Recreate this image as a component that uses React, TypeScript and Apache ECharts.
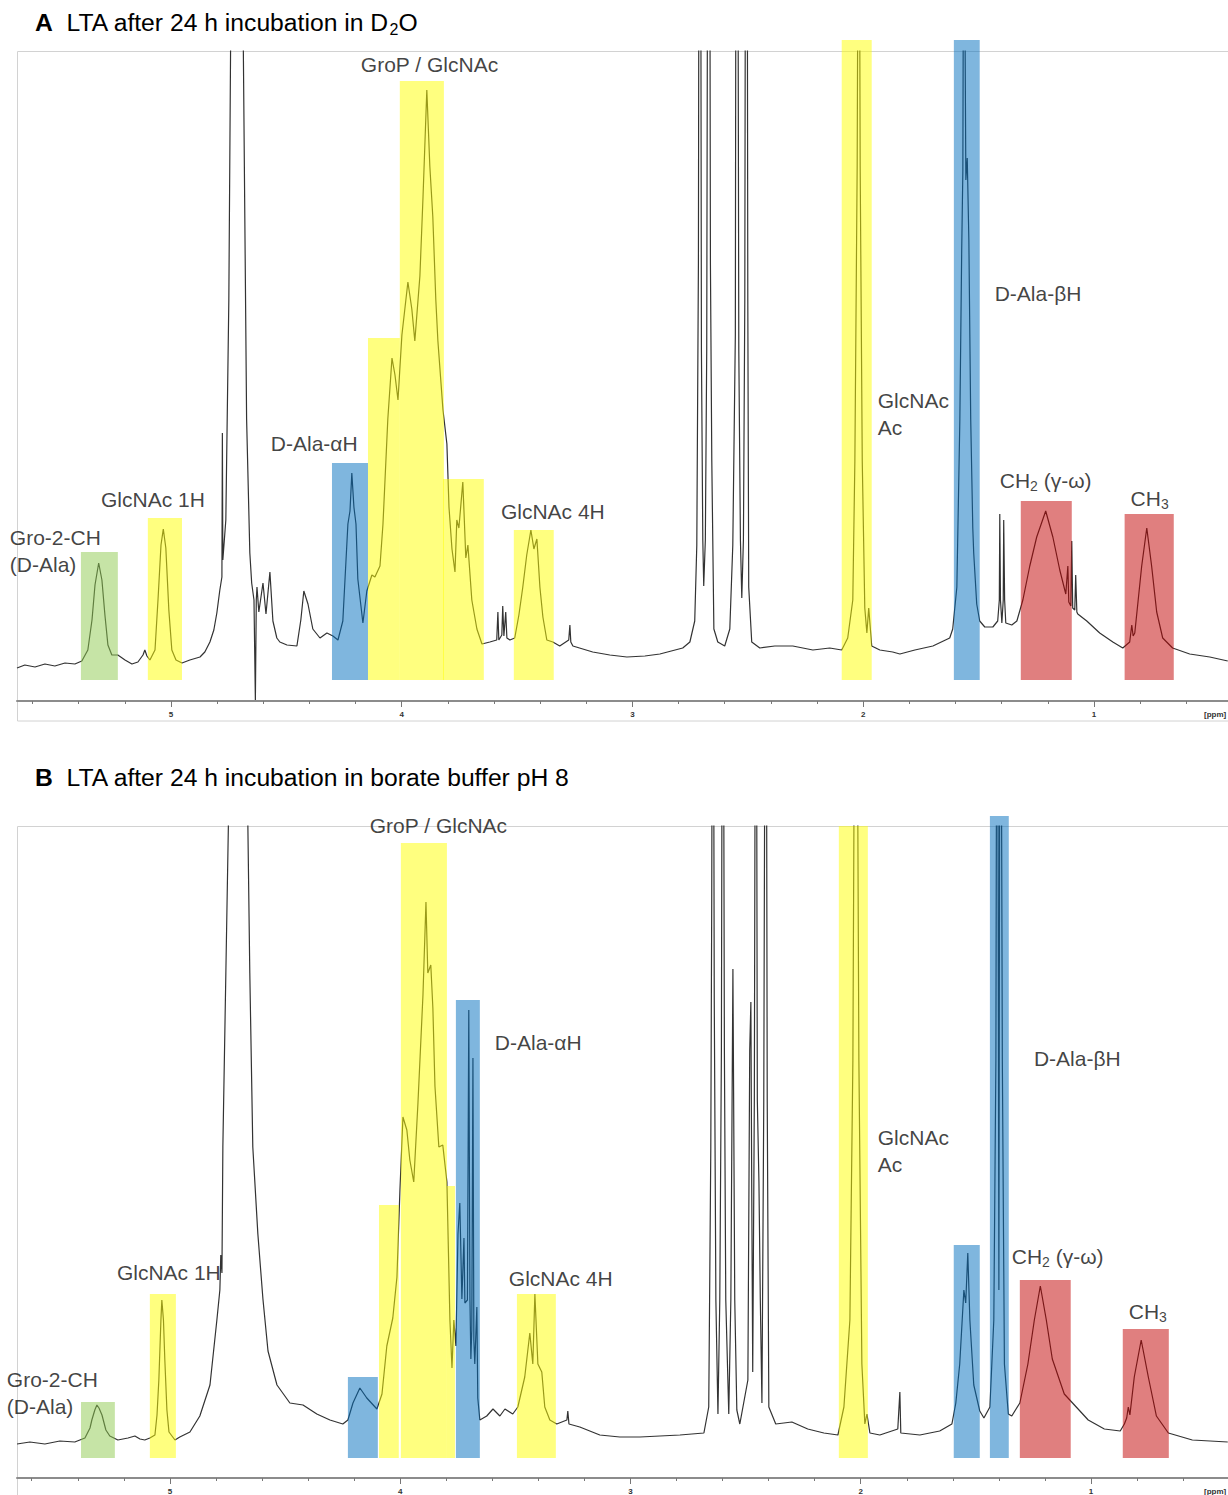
import React, { useEffect, useRef } from "react";
import * as echarts from "echarts";

// ---------- DATA (ppm, relative intensity) ----------
const titleA = "LTA after 24 h incubation in D₂O";
const titleB = "LTA after 24 h incubation in borate buffer pH 8";

const majorTicks = [1, 2, 3, 4, 5];
const minorTicks = [
  0.6, 0.8, 1.0, 1.2, 1.4, 1.6, 1.8, 2.0, 2.2, 2.4, 2.6, 2.8, 3.0, 3.2, 3.4,
  3.6, 3.8, 4.0, 4.2, 4.4, 4.6, 4.8, 5.0, 5.2, 5.4, 5.6,
];

const spectrumA: [number, number][] = [
  [5.667,33],[5.633,36],[5.589,34],[5.546,37],[5.503,35],[5.459,38],[5.416,37],[5.386,40],[5.360,51],[5.342,81],
  [5.329,116],[5.313,138],[5.299,121],[5.286,86],[5.273,56],[5.256,46],[5.230,46],[5.199,41],[5.169,37],[5.143,39],
  [5.121,46],[5.113,51],[5.104,45],[5.091,41],[5.069,51],[5.056,101],[5.043,156],[5.033,172],[5.022,153],[5.009,91],
  [4.996,51],[4.978,41],[4.952,38],[4.918,41],[4.874,44],[4.853,49],[4.831,59],[4.814,71],[4.801,88],[4.788,111],
  [4.779,124],[4.777,268],[4.775,141],[4.762,181],[4.749,401],[4.740,700],[4.714,1500],[4.688,700],[4.672,282],[4.658,148],
  [4.650,118],[4.640,101],[4.634,1],[4.630,101],[4.627,114],[4.619,89],[4.601,118],[4.588,87],[4.571,129],[4.558,80],
  [4.541,63],[4.528,59],[4.497,56],[4.454,55],[4.437,81],[4.424,110],[4.406,97],[4.385,72],[4.354,63],[4.324,68],
  [4.298,65],[4.276,61],[4.255,80],[4.233,177],[4.224,190],[4.216,228],[4.207,194],[4.198,177],[4.190,122],[4.168,78],
  [4.151,110],[4.129,126],[4.116,124],[4.094,135],[4.081,177],[4.060,282],[4.042,343],[4.029,326],[4.016,301],[3.999,366],
  [3.973,419],[3.956,392],[3.943,360],[3.921,425],[3.908,501],[3.891,611],[3.878,535],[3.865,484],[3.852,401],[3.843,360],
  [3.821,291],[3.804,257],[3.795,194],[3.782,152],[3.769,129],[3.761,181],[3.752,173],[3.735,219],[3.722,143],[3.713,156],
  [3.696,101],[3.674,72],[3.652,57],[3.618,59],[3.588,61],[3.583,89],[3.579,61],[3.566,66],[3.562,95],[3.557,65],
  [3.549,89],[3.544,63],[3.531,61],[3.510,63],[3.492,86],[3.475,114],[3.458,146],[3.440,171],[3.427,152],[3.414,162],
  [3.401,114],[3.388,84],[3.371,61],[3.345,59],[3.315,55],[3.276,61],[3.271,76],[3.267,59],[3.258,55],[3.172,49],
  [3.098,46],[3.024,44],[2.946,45],[2.881,47],[2.782,53],[2.751,59],[2.730,80],[2.721,156],[2.714,438],[2.708,1400],
  [2.701,351],[2.695,161],[2.691,115],[2.684,161],[2.678,351],[2.669,1400],[2.662,438],[2.656,240],[2.647,72],[2.630,59],
  [2.600,55],[2.578,72],[2.565,156],[2.554,366],[2.548,1400],[2.539,351],[2.532,161],[2.526,103],[2.519,161],[2.513,401],
  [2.506,1400],[2.500,401],[2.496,114],[2.483,59],[2.448,53],[2.383,55],[2.305,55],[2.218,51],[2.145,53],[2.093,51],
  [2.067,63],[2.045,101],[2.036,240],[2.026,535],[2.019,1000],[2.013,535],[2.004,240],[1.993,93],[1.984,68],[1.976,93],
  [1.963,55],[1.928,51],[1.872,49],[1.841,47],[1.776,51],[1.698,55],[1.625,63],[1.612,72],[1.594,114],[1.581,282],
  [1.573,451],[1.568,531],[1.564,900],[1.555,521],[1.549,543],[1.542,461],[1.534,282],[1.525,173],[1.521,148],[1.508,97],
  [1.495,80],[1.473,74],[1.438,74],[1.417,80],[1.410,101],[1.408,187],[1.405,101],[1.399,78],[1.393,101],[1.391,181],
  [1.387,101],[1.382,78],[1.356,76],[1.334,80],[1.308,101],[1.278,135],[1.248,164],[1.209,190],[1.178,164],[1.148,131],
  [1.122,107],[1.113,135],[1.109,99],[1.100,95],[1.096,160],[1.092,93],[1.083,91],[1.079,126],[1.074,89],[1.070,87],
  [1.031,80],[0.975,68],[0.918,59],[0.875,53],[0.845,59],[0.836,76],[0.830,65],[0.823,68],[0.810,97],[0.793,135],
  [0.771,173],[0.750,135],[0.728,89],[0.702,63],[0.659,53],[0.585,47],[0.498,44],[0.420,40],
];

const spectrumB: [number, number][] = [
  [5.664,34],[5.608,36],[5.543,34],[5.478,37],[5.413,36],[5.391,38],[5.369,40],[5.347,50],[5.339,58],[5.326,68],
  [5.317,73],[5.308,70],[5.295,63],[5.278,48],[5.261,42],[5.226,38],[5.182,40],[5.152,42],[5.130,39],[5.109,38],
  [5.087,40],[5.065,43],[5.056,63],[5.048,98],[5.039,158],[5.035,178],[5.028,158],[5.022,118],[5.013,68],[5.004,46],
  [4.978,38],[4.957,41],[4.913,46],[4.870,62],[4.826,93],[4.796,158],[4.783,188],[4.779,223],[4.774,205],[4.770,331],
  [4.757,505],[4.744,680],[4.705,1500],[4.663,680],[4.653,505],[4.640,331],[4.618,244],[4.596,179],[4.574,127],[4.535,93],
  [4.479,75],[4.422,73],[4.362,64],[4.305,58],[4.249,54],[4.227,58],[4.205,75],[4.175,90],[4.145,80],[4.101,69],
  [4.079,84],[4.058,132],[4.032,160],[4.014,201],[4.001,288],[3.988,361],[3.971,348],[3.958,318],[3.941,296],[3.923,374],
  [3.901,483],[3.888,576],[3.880,505],[3.867,513],[3.858,470],[3.849,392],[3.832,331],[3.815,333],[3.797,296],[3.784,158],
  [3.775,110],[3.767,158],[3.758,132],[3.749,244],[3.741,275],[3.732,179],[3.723,240],[3.719,175],[3.708,178],[3.702,468],
  [3.697,178],[3.693,119],[3.689,148],[3.684,420],[3.680,138],[3.676,114],[3.667,171],[3.663,80],[3.654,58],[3.624,62],
  [3.597,69],[3.567,62],[3.545,69],[3.511,64],[3.489,71],[3.459,101],[3.437,145],[3.424,114],[3.415,184],[3.402,114],
  [3.385,106],[3.372,71],[3.350,58],[3.320,54],[3.276,58],[3.272,67],[3.267,54],[3.220,51],[3.133,43],[3.046,41],
  [2.959,41],[2.872,42],[2.785,43],[2.681,45],[2.660,71],[2.651,331],[2.647,578],[2.642,1100],[2.636,478],[2.629,178],
  [2.620,64],[2.612,178],[2.605,428],[2.599,1100],[2.592,428],[2.586,178],[2.573,64],[2.564,178],[2.555,509],[2.547,178],
  [2.538,68],[2.525,54],[2.490,98],[2.482,428],[2.477,476],[2.473,278],[2.469,106],[2.462,378],[2.455,1100],[2.449,378],
  [2.442,296],[2.436,178],[2.429,75],[2.421,378],[2.412,1100],[2.406,378],[2.399,71],[2.369,54],[2.299,56],[2.230,49],
  [2.160,45],[2.099,43],[2.073,71],[2.047,158],[2.034,418],[2.021,1100],[2.008,418],[1.995,114],[1.982,54],[1.973,64],
  [1.960,45],[1.917,43],[1.839,49],[1.830,86],[1.826,45],[1.743,43],[1.657,47],[1.604,54],[1.587,75],[1.570,114],
  [1.552,188],[1.544,175],[1.535,225],[1.526,158],[1.509,93],[1.483,67],[1.465,60],[1.439,71],[1.422,158],[1.413,418],
  [1.407,1100],[1.400,188],[1.394,1100],[1.385,418],[1.376,114],[1.359,64],[1.344,62],[1.309,75],[1.274,114],[1.246,158],
  [1.220,192],[1.194,158],[1.168,119],[1.116,84],[1.064,71],[1.012,58],[0.942,49],[0.873,47],[0.855,54],[0.845,60],
  [0.838,71],[0.831,63],[0.812,101],[0.782,138],[0.751,101],[0.716,62],[0.664,45],[0.560,38],[0.406,36],
];

// highlighted regions: [group, ppm from, ppm to, top, bottom]
const regionsA: [string, number, number, number, number][] = [
  ["gro", 5.390, 5.230, 149, 21],
  ["glc", 5.100, 4.952, 183, 21],
  ["ala", 4.302, 4.146, 238, 21],
  ["glc", 4.146, 4.008, 363, 21],
  ["glc", 4.008, 3.817, 620, 21],
  ["glc", 3.821, 3.644, 222, 21],
  ["glc", 3.514, 3.341, 171, 21],
  ["glc", 2.093, 1.963, 661, 21],
  ["ala", 1.607, 1.495, 661, 21],
  ["lip", 1.317, 1.096, 200, 21],
  ["lip", 0.867, 0.654, 187, 21],
];
const regionsB: [string, number, number, number, number][] = [
  ["gro", 5.386, 5.239, 76, 20],
  ["glc", 5.087, 4.974, 184, 20],
  ["ala", 4.227, 4.097, 101, 20],
  ["glc", 4.092, 4.006, 273, 20],
  ["glc", 3.997, 3.797, 635, 20],
  ["glc", 3.797, 3.762, 292, 20],
  ["ala", 3.758, 3.654, 478, 20],
  ["glc", 3.493, 3.324, 184, 20],
  ["glc", 2.095, 1.969, 652, 20],
  ["ala", 1.596, 1.483, 233, 20],
  ["ala", 1.439, 1.357, 662, 20],
  ["lip", 1.309, 1.088, 198, 20],
  ["lip", 0.862, 0.662, 149, 20],
];

// annotations: [text, ppm, intensity]
const labelsA: [string, number, number][] = [
  ["Gro-2-CH\n(D-Ala)", 5.698, 150],
  ["GlcNAc 1H", 5.303, 202],
  ["D-Ala-αH", 4.567, 258],
  ["GroP / GlcNAc", 4.177, 637],
  ["GlcNAc 4H", 3.570, 190],
  ["GlcNAc\nAc", 1.937, 287],
  ["D-Ala-βH", 1.430, 408],
  ["CH₂ (γ-ω)", 1.408, 221],
  ["CH₃", 0.841, 203],
];
const labelsB: [string, number, number][] = [
  ["Gro-2-CH\n(D-Ala)", 5.708, 85],
  ["GlcNAc 1H", 5.230, 206],
  ["GroP / GlcNAc", 4.132, 653],
  ["D-Ala-αH", 3.589, 436],
  ["GlcNAc 4H", 3.528, 200],
  ["GlcNAc\nAc", 1.926, 327],
  ["D-Ala-βH", 1.248, 420],
  ["CH₂ (γ-ω)", 1.344, 222],
  ["CH₃", 0.836, 167],
];

// ---------- STYLE / OPTION ----------
const FONT = "'Liberation Sans', Arial, Helvetica, sans-serif";
const COLORS: Record<string, string> = {
  gro: "rgba(141,201,77,0.5)",
  glc: "rgba(255,255,0,0.5)",
  ala: "rgba(0,110,190,0.5)",
  lip: "rgba(193,0,0,0.5)",
};

const toRich = (t: string) =>
  t.replace(/₂/g, "{s|2}").replace(/₃/g, "{s|3}");

function mainX(gridIndex: number, min: number, max: number) {
  return {
    type: "value", gridIndex, min, max, inverse: true, position: "bottom",
    axisLine: { show: true, onZero: false, lineStyle: { color: "#8c8c8c", width: 2 } },
    axisTick: { show: true, customValues: minorTicks, length: 3, lineStyle: { color: "#777", width: 1 } },
    axisLabel: { show: true, customValues: majorTicks, fontSize: 8, fontWeight: "bold", color: "#333", margin: 9, fontFamily: FONT },
    splitLine: { show: false },
  };
}
function majorX(gridIndex: number, min: number, max: number) {
  return {
    type: "value", gridIndex, min, max, inverse: true, position: "bottom",
    axisLine: { show: false, onZero: false },
    axisTick: { show: true, customValues: majorTicks, length: 6, lineStyle: { color: "#777", width: 1 } },
    axisLabel: { show: false },
    splitLine: { show: false },
  };
}

function spectrumSeries(data: [number, number][], xi: number, yi: number) {
  return {
    type: "line", xAxisIndex: xi, yAxisIndex: yi, data, showSymbol: false, symbol: "none",
    lineStyle: { color: "#333", width: 1.2 }, z: 2, silent: true, clip: true,
  };
}
function regionSeries(regions: [string, number, number, number, number][], xi: number, yi: number) {
  return {
    type: "custom", xAxisIndex: xi, yAxisIndex: yi, z: 3, silent: true, clip: false,
    encode: { x: [0, 1], y: [2, 3] },
    data: regions.map(([g, a, b, top, bot]) => ({ value: [a, b, top, bot], itemStyle: { color: COLORS[g] } })),
    renderItem: (params: any, api: any) => {
      const p1 = api.coord([api.value(0), api.value(2)]);
      const p2 = api.coord([api.value(1), api.value(3)]);
      return {
        type: "rect",
        shape: { x: Math.min(p1[0], p2[0]), y: p1[1], width: Math.abs(p2[0] - p1[0]), height: p2[1] - p1[1] },
        style: { fill: api.visual("color") },
      };
    },
  };
}
function labelSeries(labels: [string, number, number][], xi: number, yi: number) {
  return {
    type: "scatter", xAxisIndex: xi, yAxisIndex: yi, symbolSize: 0, clip: false, silent: true, z: 5,
    data: labels.map(([t, x, y]) => ({ value: [x, y], label: { formatter: toRich(t) } })),
    label: {
      show: true, position: "right", distance: 0, color: "#111", fontSize: 21, fontFamily: FONT,
      lineHeight: 26.5, align: "left", verticalAlign: "middle",
      rich: { s: { fontSize: 14, lineHeight: 14, verticalAlign: "bottom", fontFamily: FONT, color: "#111" } },
    },
  };
}
function titleOf(letter: string, text: string, top: number) {
  return {
    text: `{b|${letter}}  ${toRich(text)}`, left: 35, top, padding: 0,
    textStyle: {
      fontFamily: FONT, fontSize: 24.7, fontWeight: "normal", color: "#000", lineHeight: 30,
      rich: {
        b: { fontFamily: FONT, fontSize: 24.7, fontWeight: "bold", color: "#000", lineHeight: 30 },
        s: { fontFamily: FONT, fontSize: 16, color: "#000", lineHeight: 16, verticalAlign: "bottom" },
      },
    },
  };
}

function buildOption() {
  return {
    animation: false,
    backgroundColor: "#fff",
    title: [titleOf("A", titleA, 7), titleOf("B", titleB, 762)],
    grid: [
      { left: 17, top: 51, width: 1211, height: 650, containLabel: false, outerBoundsMode: "none" },
      { left: 17, top: 826, width: 1211, height: 652, containLabel: false, outerBoundsMode: "none" },
    ],
    xAxis: [
      mainX(0, 0.419, 5.667), majorX(0, 0.419, 5.667),
      mainX(1, 0.405, 5.664), majorX(1, 0.405, 5.664),
    ],
    yAxis: [
      { type: "value", gridIndex: 0, min: 0, max: 650, show: false },
      { type: "value", gridIndex: 1, min: 0, max: 652, show: false },
    ],
    graphic: [
      { type: "rect", silent: true, z: -1, shape: { x: 17.5, y: 51.5, width: 1220, height: 669.5 }, style: { fill: "none", stroke: "#d2d2d2", lineWidth: 1 } },
      { type: "rect", silent: true, z: -1, shape: { x: 17.5, y: 826.5, width: 1220, height: 680 }, style: { fill: "none", stroke: "#d2d2d2", lineWidth: 1 } },
      { type: "text", silent: true, x: 1204, y: 710, style: { text: "[ppm]", fontSize: 8, fontWeight: "bold", fill: "#333", fontFamily: FONT } },
      { type: "text", silent: true, x: 1204, y: 1487, style: { text: "[ppm]", fontSize: 8, fontWeight: "bold", fill: "#333", fontFamily: FONT } },
    ],
    series: [
      spectrumSeries(spectrumA, 0, 0),
      regionSeries(regionsA, 0, 0),
      labelSeries(labelsA, 0, 0),
      spectrumSeries(spectrumB, 2, 1),
      regionSeries(regionsB, 2, 1),
      labelSeries(labelsB, 2, 1),
    ],
  };
}

export default function App() {
  const ref = useRef<HTMLDivElement>(null);
  useEffect(() => {
    if (!ref.current) return;
    const chart = echarts.init(ref.current, null, { renderer: "svg", width: 1228, height: 1495 });
    chart.setOption(buildOption() as any);
    return () => chart.dispose();
  }, []);
  return (
    <div
      ref={ref}
      style={{ position: "absolute", left: 0, top: 0, width: 1228, height: 1495, background: "#fff" }}
    />
  );
}
